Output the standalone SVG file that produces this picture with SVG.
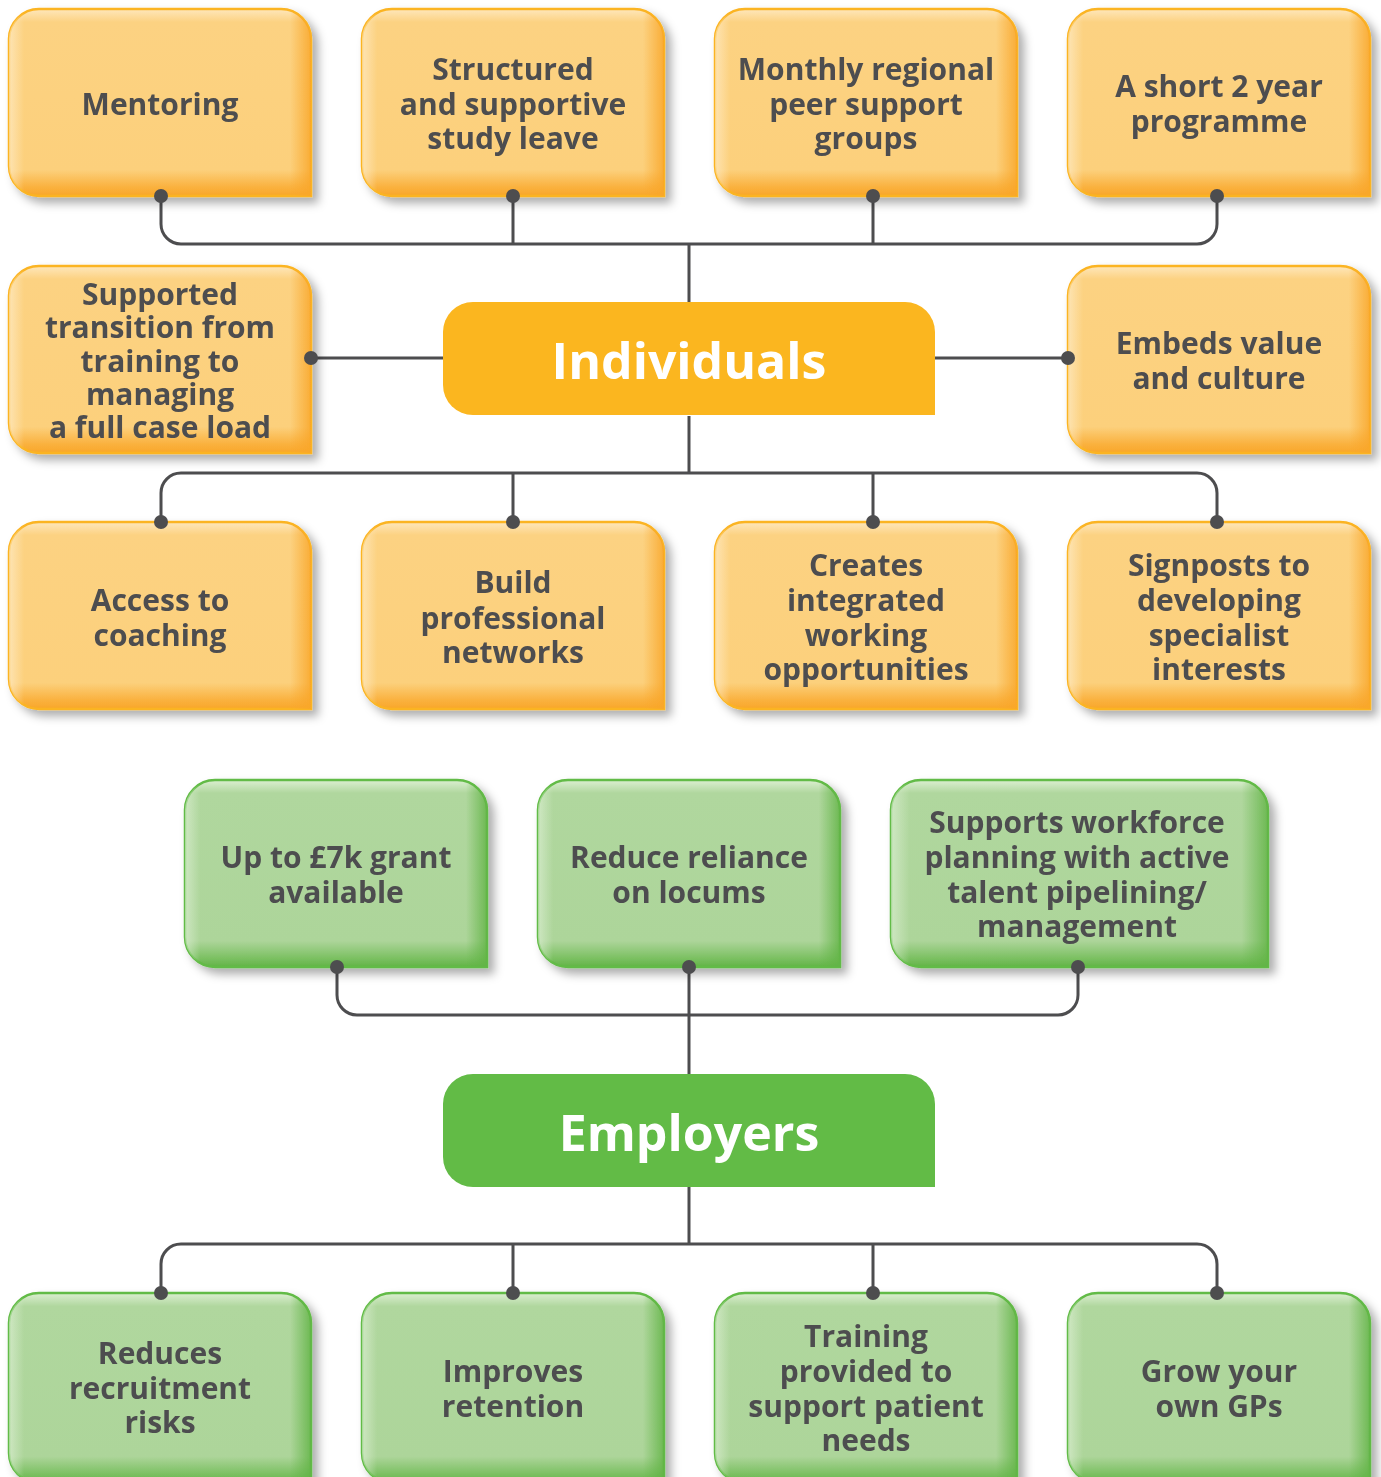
<svg xmlns="http://www.w3.org/2000/svg" width="1381" height="1477" viewBox="0 0 1381 1477">
  <defs>
    <style>
      .lbl { font-family: "Open Sans", "Liberation Sans", sans-serif; font-weight: 700; font-size: 30px; fill: #4D4D4F; text-anchor: middle; }
      .hub { font-family: "Open Sans", "Liberation Sans", sans-serif; font-weight: 700; font-size: 50px; fill: #FFFFFF; text-anchor: middle; }
      .wire { fill: none; stroke: #4D4D4F; stroke-width: 3; }
      .dot { fill: #4D4D4F; }
      .o-base { fill: url(#oV); stroke: #FBB424; stroke-width: 2.5; }
      .o-side { fill: url(#oH); }
      .g-base { fill: url(#gV); stroke: #62BB46; stroke-width: 2.5; }
      .g-side { fill: url(#gH); }
      .card { filter: url(#shadow); }
    </style>
    <filter id="shadow" x="-10%" y="-10%" width="130%" height="130%">
      <feDropShadow dx="6" dy="6" stdDeviation="5" flood-color="#000" flood-opacity="0.32"/>
    </filter>
    <!-- orange card bevel -->
    <linearGradient id="oV" x1="0" y1="0" x2="0" y2="1">
      <stop offset="0" stop-color="#FEE7BC"/>
      <stop offset="0.07" stop-color="#FCD282"/>
      <stop offset="0.86" stop-color="#FCD07C"/>
      <stop offset="0.95" stop-color="#FAB240"/>
      <stop offset="1" stop-color="#F9A629"/>
    </linearGradient>
    <linearGradient id="oH" x1="0" y1="0" x2="1" y2="0">
      <stop offset="0" stop-color="#FFF3DC" stop-opacity="0.55"/>
      <stop offset="0.05" stop-color="#FFF3DC" stop-opacity="0"/>
      <stop offset="0.93" stop-color="#F9A629" stop-opacity="0"/>
      <stop offset="1" stop-color="#F9A629" stop-opacity="0.85"/>
    </linearGradient>
    <!-- green card bevel -->
    <linearGradient id="gV" x1="0" y1="0" x2="0" y2="1">
      <stop offset="0" stop-color="#DCEFD2"/>
      <stop offset="0.07" stop-color="#B0D79E"/>
      <stop offset="0.86" stop-color="#ADD59A"/>
      <stop offset="0.95" stop-color="#7DC164"/>
      <stop offset="1" stop-color="#62B446"/>
    </linearGradient>
    <linearGradient id="gH" x1="0" y1="0" x2="1" y2="0">
      <stop offset="0" stop-color="#E8F5E1" stop-opacity="0.55"/>
      <stop offset="0.05" stop-color="#E8F5E1" stop-opacity="0"/>
      <stop offset="0.93" stop-color="#62B446" stop-opacity="0"/>
      <stop offset="1" stop-color="#62B446" stop-opacity="0.85"/>
    </linearGradient>
    <!-- card outline: three rounded corners, square bottom-right -->
    <path id="card" d="M30,0 H272 A30,30 0 0 1 302,30 V187 H30 A30,30 0 0 1 0,157 V30 A30,30 0 0 1 30,0 Z"/>
    <path id="cardTall" d="M30,0 H272 A30,30 0 0 1 302,30 V190 H30 A30,30 0 0 1 0,160 V30 A30,30 0 0 1 30,0 Z"/>
    <path id="cardWide" d="M30,0 H347 A30,30 0 0 1 377,30 V187 H30 A30,30 0 0 1 0,157 V30 A30,30 0 0 1 30,0 Z"/>
    <path id="hubShape" d="M30,0 H462 A30,30 0 0 1 492,30 V113 H30 A30,30 0 0 1 0,83 V30 A30,30 0 0 1 30,0 Z"/>
  </defs>

  <!-- connectors -->
  <g id="connectors">
    <path class="wire" d="M161,196 V224 A20,20 0 0 0 181,244 H1197 A20,20 0 0 0 1217,224 V196"/>
    <path class="wire" d="M513,196 V244 M873,196 V244 M689,244 V302"/>
    <path class="wire" d="M311,358 H443 M935,358 H1068"/>
    <path class="wire" d="M689,416 V473"/>
    <path class="wire" d="M161,522 V493 A20,20 0 0 1 181,473 H1197 A20,20 0 0 1 1217,493 V522"/>
    <path class="wire" d="M513,473 V522 M873,473 V522"/>
    <path class="wire" d="M337,967 V995 A20,20 0 0 0 357,1015 H1058 A20,20 0 0 0 1078,995 V967"/>
    <path class="wire" d="M689,967 V1074"/>
    <path class="wire" d="M689,1187 V1244"/>
    <path class="wire" d="M161,1293 V1264 A20,20 0 0 1 181,1244 H1197 A20,20 0 0 1 1217,1264 V1293"/>
    <path class="wire" d="M513,1244 V1293 M873,1244 V1293"/>
  </g>

  <!-- Individuals: upper row -->
  <g id="mentoring" class="card" transform="translate(9,9)">
    <use href="#card" class="o-base"/><use href="#card" class="o-side"/>
    <text class="lbl" x="151" y="106">Mentoring</text>
  </g>
  <g id="study-leave" class="card" transform="translate(362,9)">
    <use href="#card" class="o-base"/><use href="#card" class="o-side"/>
    <text class="lbl" x="151" y="71">Structured</text>
    <text class="lbl" x="151" y="106">and supportive</text>
    <text class="lbl" x="151" y="140">study leave</text>
  </g>
  <g id="peer-support" class="card" transform="translate(715,9)">
    <use href="#card" class="o-base"/><use href="#card" class="o-side"/>
    <text class="lbl" x="151" y="71">Monthly regional</text>
    <text class="lbl" x="151" y="106">peer support</text>
    <text class="lbl" x="151" y="140">groups</text>
  </g>
  <g id="short-programme" class="card" transform="translate(1068,9)">
    <use href="#card" class="o-base"/><use href="#card" class="o-side"/>
    <text class="lbl" x="151" y="88">A short 2 year</text>
    <text class="lbl" x="151" y="123">programme</text>
  </g>

  <!-- Individuals: middle row -->
  <g id="transition" class="card" transform="translate(9,266)">
    <use href="#card" class="o-base"/><use href="#card" class="o-side"/>
    <text class="lbl" x="151" y="39">Supported</text>
    <text class="lbl" x="151" y="72">transition from</text>
    <text class="lbl" x="151" y="106">training to</text>
    <text class="lbl" x="151" y="139">managing</text>
    <text class="lbl" x="151" y="172">a full case load</text>
  </g>
  <g id="individuals">
    <use href="#hubShape" transform="translate(443,302)" fill="#FBB61F"/>
    <text class="hub" x="689" y="379">Individuals</text>
  </g>
  <g id="value-culture" class="card" transform="translate(1068,266)">
    <use href="#card" class="o-base"/><use href="#card" class="o-side"/>
    <text class="lbl" x="151" y="88">Embeds value</text>
    <text class="lbl" x="151" y="123">and culture</text>
  </g>

  <!-- Individuals: lower row -->
  <g id="coaching" class="card" transform="translate(9,522)">
    <use href="#card" class="o-base"/><use href="#card" class="o-side"/>
    <text class="lbl" x="151" y="89">Access to</text>
    <text class="lbl" x="151" y="124">coaching</text>
  </g>
  <g id="networks" class="card" transform="translate(362,522)">
    <use href="#card" class="o-base"/><use href="#card" class="o-side"/>
    <text class="lbl" x="151" y="71">Build</text>
    <text class="lbl" x="151" y="107">professional</text>
    <text class="lbl" x="151" y="141">networks</text>
  </g>
  <g id="integrated-working" class="card" transform="translate(715,522)">
    <use href="#card" class="o-base"/><use href="#card" class="o-side"/>
    <text class="lbl" x="151" y="54">Creates</text>
    <text class="lbl" x="151" y="89">integrated</text>
    <text class="lbl" x="151" y="124">working</text>
    <text class="lbl" x="151" y="158">opportunities</text>
  </g>
  <g id="specialist-interests" class="card" transform="translate(1068,522)">
    <use href="#card" class="o-base"/><use href="#card" class="o-side"/>
    <text class="lbl" x="151" y="54">Signposts to</text>
    <text class="lbl" x="151" y="89">developing</text>
    <text class="lbl" x="151" y="124">specialist</text>
    <text class="lbl" x="151" y="158">interests</text>
  </g>

  <!-- Employers: upper row -->
  <g id="grant" class="card" transform="translate(185,780)">
    <use href="#card" class="g-base"/><use href="#card" class="g-side"/>
    <text class="lbl" x="151" y="88">Up to £7k grant</text>
    <text class="lbl" x="151" y="123">available</text>
  </g>
  <g id="locums" class="card" transform="translate(538,780)">
    <use href="#card" class="g-base"/><use href="#card" class="g-side"/>
    <text class="lbl" x="151" y="88">Reduce reliance</text>
    <text class="lbl" x="151" y="123">on locums</text>
  </g>
  <g id="workforce-planning" class="card" transform="translate(891,780)">
    <use href="#cardWide" class="g-base"/><use href="#cardWide" class="g-side"/>
    <text class="lbl" x="186" y="53">Supports workforce</text>
    <text class="lbl" x="186" y="88">planning with active</text>
    <text class="lbl" x="186" y="123">talent pipelining/</text>
    <text class="lbl" x="186" y="157">management</text>
  </g>

  <g id="employers">
    <use href="#hubShape" transform="translate(443,1074)" fill="#62BB46"/>
    <text class="hub" x="689" y="1151">Employers</text>
  </g>

  <!-- Employers: lower row -->
  <g id="recruitment-risks" class="card" transform="translate(9,1293)">
    <use href="#cardTall" class="g-base"/><use href="#cardTall" class="g-side"/>
    <text class="lbl" x="151" y="71">Reduces</text>
    <text class="lbl" x="151" y="106">recruitment</text>
    <text class="lbl" x="151" y="140">risks</text>
  </g>
  <g id="retention" class="card" transform="translate(362,1293)">
    <use href="#cardTall" class="g-base"/><use href="#cardTall" class="g-side"/>
    <text class="lbl" x="151" y="89">Improves</text>
    <text class="lbl" x="151" y="124">retention</text>
  </g>
  <g id="patient-needs" class="card" transform="translate(715,1293)">
    <use href="#cardTall" class="g-base"/><use href="#cardTall" class="g-side"/>
    <text class="lbl" x="151" y="54">Training</text>
    <text class="lbl" x="151" y="89">provided to</text>
    <text class="lbl" x="151" y="124">support patient</text>
    <text class="lbl" x="151" y="158">needs</text>
  </g>
  <g id="own-gps" class="card" transform="translate(1068,1293)">
    <use href="#cardTall" class="g-base"/><use href="#cardTall" class="g-side"/>
    <text class="lbl" x="151" y="89">Grow your</text>
    <text class="lbl" x="151" y="124">own GPs</text>
  </g>

  <!-- connection dots, drawn over the card edges -->
  <g id="dots">
    <circle class="dot" cx="161" cy="196" r="7"/>
    <circle class="dot" cx="513" cy="196" r="7"/>
    <circle class="dot" cx="873" cy="196" r="7"/>
    <circle class="dot" cx="1217" cy="196" r="7"/>
    <circle class="dot" cx="311" cy="358" r="7"/>
    <circle class="dot" cx="1068" cy="358" r="7"/>
    <circle class="dot" cx="161" cy="522" r="7"/>
    <circle class="dot" cx="513" cy="522" r="7"/>
    <circle class="dot" cx="873" cy="522" r="7"/>
    <circle class="dot" cx="1217" cy="522" r="7"/>
    <circle class="dot" cx="337" cy="967" r="7"/>
    <circle class="dot" cx="689" cy="967" r="7"/>
    <circle class="dot" cx="1078" cy="967" r="7"/>
    <circle class="dot" cx="161" cy="1293" r="7"/>
    <circle class="dot" cx="513" cy="1293" r="7"/>
    <circle class="dot" cx="873" cy="1293" r="7"/>
    <circle class="dot" cx="1217" cy="1293" r="7"/>
  </g>
</svg>
